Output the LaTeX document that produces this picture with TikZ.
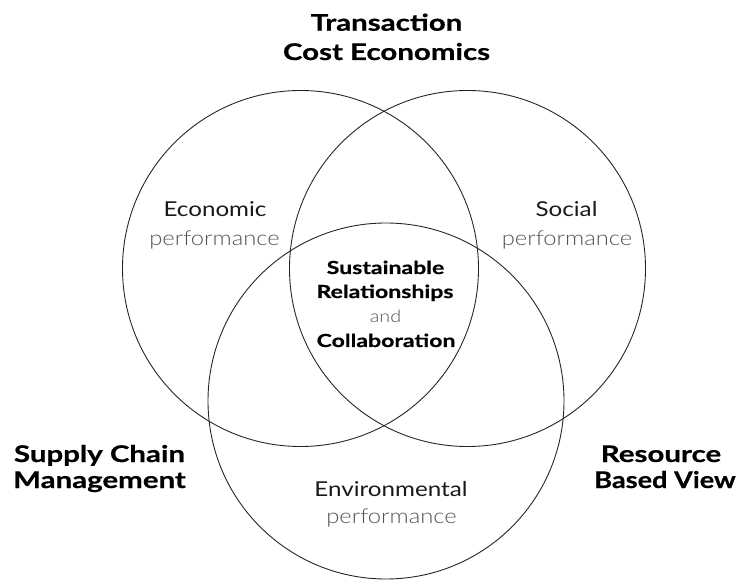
\documentclass[tikz,border=0pt]{standalone}
\usepackage{fontspec}
\setmainfont{Lato}
\newfontfamily\wideboldfont{Lato}[FakeStretch=1.28,FakeBold=0.6]
\newfontfamily\widefont{Lato}[FakeStretch=1.18]
\IfFontExistsTF{Lato Light}
  {\newfontfamily\lightfont{Lato Light}[FakeStretch=1.16]}
  {\newfontfamily\lightfont{Lato}[FakeStretch=1.14]}
\begin{document}
\begin{tikzpicture}[x=1pt,y=-1pt,
  ring/.style={circle,draw=black!85,line width=0.9pt,minimum size=356pt,inner sep=0pt},
  theory/.style={anchor=base,inner sep=0pt,font=\wideboldfont\bfseries\fontsize{23}{27}\selectfont},
  dim/.style={anchor=base,inner sep=0pt,font=\widefont\fontsize{20.5}{24}\selectfont,text=black!90},
  perf/.style={anchor=base,inner sep=0pt,font=\lightfont\fontsize{20.5}{24}\selectfont,text=black!68},
  core/.style={anchor=base,inner sep=0pt,font=\wideboldfont\bfseries\fontsize{18}{21}\selectfont},
  coreand/.style={anchor=base,inner sep=0pt,font=\lightfont\fontsize{17}{20}\selectfont,text=black!68}]
\useasboundingbox (0,0) rectangle (737,580);
\node[ring] (econ) at (300.5,268.5) {};
\node[ring] (soc) at (467.5,268.5) {};
\node[ring] (env) at (386,401) {};
% theory labels
\node[theory] (t1) at (386.5,30.7) {Transaction};
\node[theory] (t2) at (386.5,60) {Cost Economics};
\node[theory] (s1) at (99.5,462) {Supply Chain};
\node[theory] (s2) at (99.5,488) {Management};
\node[theory] (r1) at (661,462) {Resource};
\node[theory] (r2) at (665,488) {\scalebox{0.92}[1]{Based View}};
% dimensions
\node[dim] (e1) at (215,217) {Economic};
\node[perf] (e2) at (214.5,245.7) {performance};
\node[dim] (so1) at (566.5,217) {Social};
\node[perf] (so2) at (567,245.7) {performance};
\node[dim] (en1) at (391,496) {Environmental};
\node[perf] (en2) at (391.5,523) {performance};
% core
\node[core] (c1) at (385.5,274) {Sustainable};
\node[core] (c2) at (385,298) {Relationships};
\node[coreand] (c3) at (385.5,323) {and};
\node[core] (c4) at (386,347) {Collaboration};
\end{tikzpicture}
\end{document}
